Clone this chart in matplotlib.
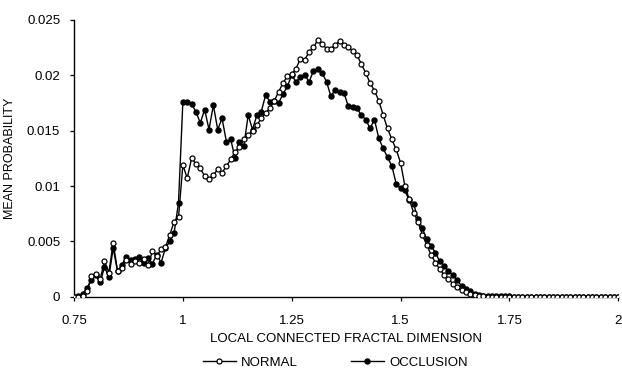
import numpy as np
import matplotlib
matplotlib.use("Agg")
import matplotlib.pyplot as plt

plt.rcParams['font.family'] = ['Liberation Sans', 'DejaVu Sans']

# local connected fractal dimension, 0.75 .. 2.00 in steps of 0.01
dim = np.round(np.arange(75, 201) / 100, 2)

normal = [
    0, 0, 0.0001, 0.0005, 0.0019, 0.0021, 0.0016, 0.0032, 0.0022, 0.0049,   # 0.75-0.84
    0.0023, 0.0026, 0.0033, 0.0030, 0.0032, 0.0031, 0.0034, 0.0029, 0.0041, 0.0037,  # 0.85-0.94
    0.0043, 0.0045, 0.0056, 0.0068, 0.0072,  # 0.95-0.99
    0.0119, 0.0107, 0.0125, 0.0120, 0.0116, 0.0109, 0.0106, 0.0110, 0.0115, 0.0112,  # 1.00-1.09
    0.0118, 0.0124, 0.0131, 0.0135, 0.0142, 0.0146, 0.0150, 0.0155, 0.0161, 0.0166,  # 1.10-1.19
    0.0170, 0.0177, 0.0185, 0.0193, 0.0199, 0.0201, 0.0206, 0.0215, 0.0214, 0.0221,  # 1.20-1.29
    0.0225, 0.0232, 0.0228, 0.0224, 0.0224, 0.0227, 0.0231, 0.0227, 0.0225, 0.0222,  # 1.30-1.39
    0.0218, 0.0210, 0.0202, 0.0193, 0.0186, 0.0177, 0.0164, 0.0152, 0.0142, 0.0133,  # 1.40-1.49
    0.0121, 0.0100, 0.0088, 0.0076, 0.0068, 0.0056, 0.0047, 0.0038, 0.0031, 0.0025,  # 1.50-1.59
    0.0020, 0.0016, 0.0012, 0.0009, 0.0006, 0.0004, 0.0003, 0.0002, 0.0001, 0.0001,  # 1.60-1.69
    0, 0, 0, 0, 0, 0, 0, 0, 0, 0,  # 1.70-1.79
    0, 0, 0, 0, 0, 0, 0, 0, 0, 0,  # 1.80-1.89
    0, 0, 0, 0, 0, 0, 0, 0, 0, 0,  # 1.90-1.99
    0,  # 2.00
]

occlusion = [
    0, 0.0001, 0.0003, 0.0008, 0.0015, 0.0020, 0.0013, 0.0027, 0.0018, 0.0044,   # 0.75-0.84
    0.0023, 0.0029, 0.0036, 0.0033, 0.0034, 0.0036, 0.0031, 0.0035, 0.0030, 0.0038,  # 0.85-0.94
    0.0031, 0.0044, 0.0050, 0.0058, 0.0085,  # 0.95-0.99
    0.0176, 0.0176, 0.0174, 0.0167, 0.0157, 0.0169, 0.0151, 0.0173, 0.0151, 0.0161,  # 1.00-1.09
    0.0140, 0.0142, 0.0125, 0.0140, 0.0136, 0.0164, 0.0151, 0.0164, 0.0167, 0.0182,  # 1.10-1.19
    0.0176, 0.0177, 0.0175, 0.0183, 0.0190, 0.0200, 0.0194, 0.0198, 0.0200, 0.0194,  # 1.20-1.29
    0.0204, 0.0206, 0.0202, 0.0194, 0.0181, 0.0187, 0.0185, 0.0184, 0.0172, 0.0171,  # 1.30-1.39
    0.0170, 0.0164, 0.0160, 0.0152, 0.0160, 0.0143, 0.0134, 0.0126, 0.0118, 0.0102,  # 1.40-1.49
    0.0098, 0.0096, 0.0087, 0.0084, 0.0070, 0.0062, 0.0052, 0.0046, 0.0040, 0.0032,  # 1.50-1.59
    0.0028, 0.0023, 0.0020, 0.0015, 0.0010, 0.0007, 0.0005, 0.0003, 0.0002, 0.0001,  # 1.60-1.69
    0.0001, 0.0001, 0.0001, 0.0001, 0.0001, 0.0001, 0, 0, 0, 0,  # 1.70-1.79
    0, 0, 0, 0, 0, 0, 0, 0, 0, 0,  # 1.80-1.89
    0, 0, 0, 0, 0, 0, 0, 0, 0, 0,  # 1.90-1.99
    0,  # 2.00
]

x_ticks = [0.75, 1, 1.25, 1.5, 1.75, 2]
x_labels = ['0.75', '1', '1.25', '1.5', '1.75', '2']
y_ticks = [0, 0.005, 0.01, 0.015, 0.02, 0.025]
y_labels = ['0', '0.005', '0.01', '0.015', '0.02', '0.025']

fig = plt.figure(figsize=(6.22, 3.73), dpi=100)
ax = fig.add_axes([0.119, 0.204, 0.875, 0.743])

ax.plot(dim, normal, color='black', lw=1.0, marker='o', ms=3.6,
        mfc='white', mec='black', mew=0.9, label='NORMAL', zorder=3)
ax.plot(dim, occlusion, color='black', lw=1.0, marker='o', ms=3.6,
        mfc='black', mec='black', label='OCCLUSION', zorder=2)

ax.set_xlim(0.75, 2)
ax.set_ylim(0, 0.025)
ax.set_xticks(x_ticks)
ax.set_xticklabels(x_labels)
ax.set_yticks(y_ticks)
ax.set_yticklabels(y_labels)
ax.tick_params(labelsize=9.5, length=3, width=0.9, direction='out')
ax.tick_params(axis='x', pad=10)
ax.tick_params(axis='y', pad=7)
for s in ['top', 'right']:
    ax.spines[s].set_visible(False)
for s in ['left', 'bottom']:
    ax.spines[s].set_linewidth(1.0)

ax.set_xlabel('LOCAL CONNECTED FRACTAL DIMENSION', fontsize=9.5, labelpad=4)
ax.set_ylabel('MEAN PROBABILITY', fontsize=9, labelpad=8)

ax.legend(loc='center', bbox_to_anchor=(0.48, -0.238), ncol=2,
          frameon=False, fontsize=9.5, handlelength=2.5, columnspacing=4,
          handletextpad=0.4, borderaxespad=0, borderpad=0)

fig.savefig('out.png', dpi=100)
